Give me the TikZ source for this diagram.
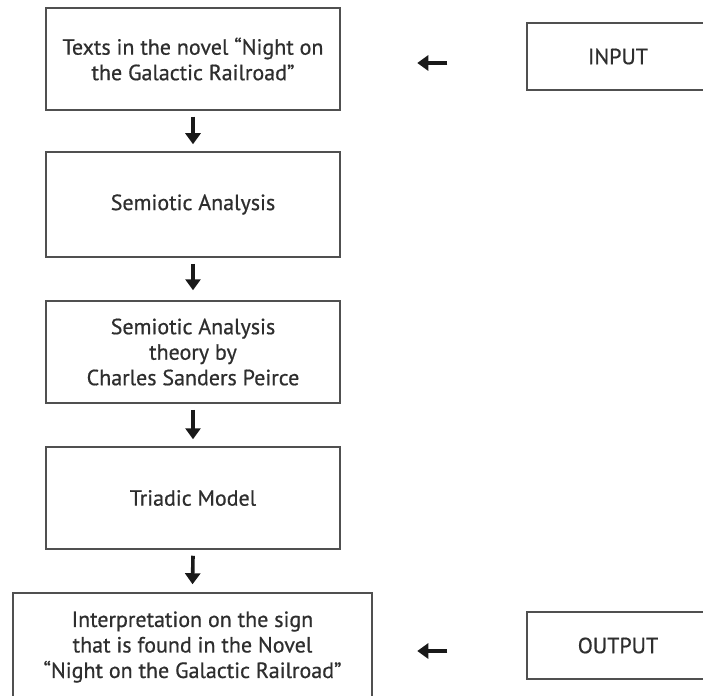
\documentclass[tikz,border=0pt]{standalone}
\usepackage{fontspec}
\setmainfont{PT Sans}[FakeBold=0.6]
\usetikzlibrary{arrows.meta}
\definecolor{txt}{HTML}{2E2E2E}
\definecolor{edge}{HTML}{505050}
\begin{document}
\begin{tikzpicture}[x=1pt,y=-1pt,
  box/.style={draw=edge,line width=1.5pt,minimum width=294pt,align=center,
    text=txt,font=\fontsize{22}{25.5}\selectfont,inner sep=0pt},
  side/.style={draw=edge,line width=1.5pt,minimum width=182pt,minimum height=67pt,
    text=txt,font=\fontsize{22}{25.5}\selectfont,inner sep=0pt},
  arr/.style={line width=3.6pt,black!90,-{Triangle[length=11pt,width=15pt]}}]
\useasboundingbox (0,0) rectangle (703,695);
\clip (0,0) rectangle (703,695);
\fill[white] (0,0) rectangle (703,695);
\node[box,minimum height=102pt] (b1) at (193,59) {Texts in the novel “Night on\\the Galactic Railroad”};
\node[box,minimum height=105pt] (b2) at (193,204.5) {Semiotic Analysis};
\node[box,minimum height=102pt] (b3) at (193,352) {Semiotic Analysis\\theory by\\Charles Sanders Peirce};
\node[box,minimum height=102pt] (b4) at (193,498) {Triadic Model};
\node[box,minimum width=359pt,minimum height=108pt] (b5) at (192.5,647) {Interpretation on the sign\\that is found in the Novel\\“Night on the Galactic Railroad”};
\node[side] (in) at (618,56.5) {INPUT};
\node[side] (out) at (618,645.5) {OUTPUT};
\draw[arr] ([yshift=-6pt]b1.south) -- ([yshift=7pt]b2.north);
\draw[arr] ([yshift=-6pt]b2.south) -- ([yshift=10pt]b3.north);
\draw[arr] ([yshift=-6pt]b3.south) -- ([yshift=7pt]b4.north);
\draw[arr] ([yshift=-6pt]b4.south) -- ([yshift=8pt]b5.north);
\coordinate (inA) at ([xshift=-79pt,yshift=-6.5pt]in.west);
\coordinate (inB) at ([xshift=-109pt,yshift=-6.5pt]in.west);
\draw[arr] (inA) -- (inB);
\coordinate (outA) at ([xshift=-79pt,yshift=-5.5pt]out.west);
\coordinate (outB) at ([xshift=-109pt,yshift=-5.5pt]out.west);
\draw[arr] (outA) -- (outB);
\end{tikzpicture}
\end{document}
